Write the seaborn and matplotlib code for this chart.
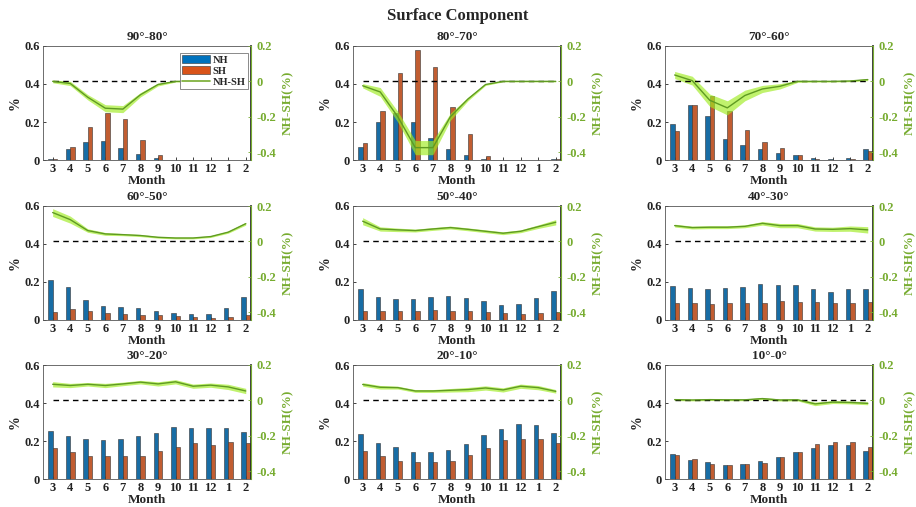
import numpy as np
import pandas as pd
import matplotlib
matplotlib.use("Agg")
import matplotlib.pyplot as plt
from matplotlib.ticker import FuncFormatter
from matplotlib.patches import Patch
from matplotlib.lines import Line2D
import seaborn as sns

months = ["3", "4", "5", "6", "7", "8", "9", "10", "11", "12", "1", "2"]
titles = ["90°-80°", "80°-70°", "70°-60°", "60°-50°", "50°-40°",
          "40°-30°", "30°-20°", "20°-10°", "10°-0°"]

nh_90_80 = [0.005, 0.06, 0.095, 0.10, 0.062, 0.03, 0.01, 0.001, 0, 0, 0, 0]
sh_90_80 = [0.007, 0.07, 0.175, 0.25, 0.215, 0.105, 0.025, 0.002, 0, 0, 0, 0]
d_90_80 = [0.0, -0.012, -0.09, -0.152, -0.157, -0.076, -0.018, 0.0, 0.0, 0.0, 0.0, 0.0]
e_90_80 = [0.008, 0.012, 0.015, 0.02, 0.02, 0.012, 0.008, 0.004, 0.003, 0.003, 0.003, 0.003]

nh_80_70 = [0.07, 0.20, 0.25, 0.20, 0.117, 0.056, 0.025, 0.007, 0, 0, 0.001, 0.004]
sh_80_70 = [0.089, 0.26, 0.46, 0.577, 0.49, 0.28, 0.135, 0.02, 0, 0, 0, 0.006]
d_80_70 = [-0.025, -0.06, -0.2, -0.375, -0.375, -0.2, -0.1, -0.018, 0.0, 0.0, 0.0, 0.0]
e_80_70 = [0.012, 0.025, 0.03, 0.04, 0.04, 0.02, 0.01, 0.005, 0.003, 0.003, 0.003, 0.003]

nh_70_60 = [0.19, 0.29, 0.23, 0.11, 0.08, 0.057, 0.038, 0.026, 0.01, 0.004, 0.01, 0.058]
sh_70_60 = [0.155, 0.29, 0.335, 0.26, 0.16, 0.095, 0.062, 0.026, 0.004, 0.002, 0.007, 0.045]
d_70_60 = [0.036, 0.004, -0.107, -0.15, -0.08, -0.043, -0.028, 0.0, 0.0, 0.0, 0.002, 0.01]
e_70_60 = [0.02, 0.025, 0.035, 0.04, 0.03, 0.02, 0.015, 0.006, 0.004, 0.004, 0.004, 0.006]

nh_60_50 = [0.208, 0.176, 0.106, 0.076, 0.07, 0.062, 0.05, 0.039, 0.032, 0.032, 0.062, 0.123]
sh_60_50 = [0.044, 0.056, 0.046, 0.037, 0.032, 0.028, 0.025, 0.019, 0.014, 0.011, 0.014, 0.025]
d_60_50 = [0.163, 0.123, 0.061, 0.042, 0.038, 0.033, 0.023, 0.019, 0.019, 0.027, 0.052, 0.1]
e_60_50 = [0.022, 0.02, 0.01, 0.008, 0.006, 0.006, 0.005, 0.005, 0.005, 0.005, 0.006, 0.008]

nh_50_40 = [0.164, 0.12, 0.111, 0.111, 0.123, 0.127, 0.118, 0.099, 0.078, 0.086, 0.118, 0.153]
sh_50_40 = [0.048, 0.049, 0.048, 0.049, 0.053, 0.046, 0.048, 0.04, 0.035, 0.032, 0.037, 0.044]
d_50_40 = [0.114, 0.07, 0.065, 0.061, 0.07, 0.078, 0.068, 0.057, 0.046, 0.057, 0.083, 0.108]
e_50_40 = [0.02, 0.012, 0.01, 0.008, 0.008, 0.008, 0.008, 0.008, 0.008, 0.008, 0.01, 0.015]

nh_40_30 = [0.178, 0.169, 0.164, 0.169, 0.176, 0.19, 0.185, 0.183, 0.162, 0.15, 0.164, 0.164]
sh_40_30 = [0.092, 0.09, 0.083, 0.09, 0.092, 0.087, 0.099, 0.097, 0.094, 0.087, 0.092, 0.097]
d_40_30 = [0.089, 0.078, 0.08, 0.08, 0.085, 0.102, 0.089, 0.089, 0.07, 0.068, 0.072, 0.065]
e_40_30 = [0.008, 0.008, 0.008, 0.008, 0.008, 0.01, 0.012, 0.012, 0.012, 0.012, 0.015, 0.018]

nh_30_20 = [0.254, 0.224, 0.212, 0.203, 0.213, 0.227, 0.241, 0.273, 0.267, 0.266, 0.267, 0.245]
sh_30_20 = [0.163, 0.142, 0.122, 0.121, 0.122, 0.122, 0.15, 0.168, 0.189, 0.18, 0.194, 0.192]
d_30_20 = [0.091, 0.084, 0.091, 0.084, 0.093, 0.103, 0.093, 0.105, 0.08, 0.086, 0.076, 0.053]
e_30_20 = [0.015, 0.012, 0.01, 0.012, 0.01, 0.01, 0.012, 0.012, 0.012, 0.012, 0.015, 0.015]

nh_20_10 = [0.236, 0.192, 0.166, 0.143, 0.143, 0.152, 0.184, 0.231, 0.262, 0.287, 0.285, 0.243]
sh_20_10 = [0.15, 0.122, 0.094, 0.089, 0.091, 0.096, 0.128, 0.163, 0.205, 0.208, 0.213, 0.191]
d_20_10 = [0.09, 0.074, 0.072, 0.053, 0.053, 0.057, 0.061, 0.07, 0.059, 0.08, 0.072, 0.051]
e_20_10 = [0.01, 0.01, 0.008, 0.008, 0.008, 0.01, 0.012, 0.012, 0.012, 0.012, 0.012, 0.01]

nh_10_0 = [0.133, 0.1, 0.087, 0.075, 0.079, 0.094, 0.114, 0.143, 0.163, 0.18, 0.18, 0.15]
sh_10_0 = [0.128, 0.103, 0.08, 0.073, 0.077, 0.084, 0.114, 0.142, 0.185, 0.194, 0.194, 0.166]
d_10_0 = [0.004, 0.002, 0.004, 0.003, 0.003, 0.01, 0.002, 0.003, -0.02, -0.01, -0.012, -0.017]
e_10_0 = [0.005, 0.005, 0.005, 0.005, 0.005, 0.006, 0.006, 0.006, 0.01, 0.008, 0.008, 0.008]

panels = [
    (nh_90_80, sh_90_80, d_90_80, e_90_80),
    (nh_80_70, sh_80_70, d_80_70, e_80_70),
    (nh_70_60, sh_70_60, d_70_60, e_70_60),
    (nh_60_50, sh_60_50, d_60_50, e_60_50),
    (nh_50_40, sh_50_40, d_50_40, e_50_40),
    (nh_40_30, sh_40_30, d_40_30, e_40_30),
    (nh_30_20, sh_30_20, d_30_20, e_30_20),
    (nh_20_10, sh_20_10, d_20_10, e_20_10),
    (nh_10_0, sh_10_0, d_10_0, e_10_0),
]

sns.set_theme(style="ticks")
plt.rcParams["font.family"] = ["Liberation Serif", "DejaVu Serif"]
plt.rcParams["font.weight"] = "bold"
plt.rcParams["axes.labelweight"] = "bold"
plt.rcParams["axes.titleweight"] = "bold"
plt.rcParams["xtick.direction"] = "in"
plt.rcParams["ytick.direction"] = "in"

NH_C = "#0072BD"
SH_C = "#D95319"
GREEN = "#77AC30"
LINE_C = "#5f9a22"
FILL_C = (0.62, 0.92, 0.12)

W, H = 916, 507
fig = plt.figure(figsize=(W / 100, H / 100), dpi=100)

col_left = [43, 353, 665]
row_top = [46, 206, 365]
aw, ah = 208, 114

def fmt(v, _):
    if abs(v) < 1e-9:
        return "0"
    return f"{v:.1f}"

for i, (nh, sh, d, e) in enumerate(panels):
    r, c = divmod(i, 3)
    ax = fig.add_axes([col_left[c] / W, 1 - (row_top[r] + ah) / H, aw / W, ah / H])
    df = pd.DataFrame({
        "Month": months * 2,
        "value": list(nh) + list(sh),
        "hemi": ["NH"] * 12 + ["SH"] * 12,
    })
    sns.barplot(data=df, x="Month", y="value", hue="hemi", order=months,
                hue_order=["NH", "SH"], palette=[NH_C, SH_C], width=0.5,
                edgecolor="#333333", linewidth=0.4, legend=False, ax=ax)
    ax.set_xlim(-0.55, 11.3)
    ax.set_ylim(0, 0.6)
    ax.set_yticks([0, 0.2, 0.4, 0.6])
    ax.yaxis.set_major_formatter(FuncFormatter(fmt))
    ax.set_xlabel("Month", fontsize=9.5, labelpad=0)
    ax.set_ylabel("%", fontsize=10, labelpad=2)
    ax.set_title(titles[i], fontsize=9.5, pad=4)
    ax.tick_params(axis="both", labelsize=9, length=2.5, width=0.6, pad=2,
                   colors="#222222")
    for sp in ["left", "bottom", "top"]:
        ax.spines[sp].set_color("#555555")
        ax.spines[sp].set_linewidth(0.6)
    for lab in ax.get_xticklabels() + ax.get_yticklabels():
        lab.set_fontweight("bold")

    ax2 = ax.twinx()
    pos = np.arange(len(months))
    dd = np.array(d)
    ee = np.array(e)
    ax2.hlines(0, pos[0], pos[-1], colors="black", linestyles=(0, (4, 3)),
               linewidth=1.0)
    ax2.fill_between(pos, dd - ee, dd + ee, color=FILL_C, alpha=0.65, linewidth=0)
    sns.lineplot(x=pos, y=dd, ax=ax2, color=LINE_C, linewidth=1.0)
    ax2.set_xlim(-0.55, 11.3)
    ax2.set_ylim(-0.445, 0.2)
    ax2.set_yticks([-0.4, -0.2, 0, 0.2])
    ax2.yaxis.set_major_formatter(FuncFormatter(fmt))
    ax2.set_ylabel("NH-SH(%)", color=GREEN, fontsize=9.5, labelpad=4)
    ax2.tick_params(axis="y", labelsize=9, colors=GREEN, length=2.5, width=0.6, pad=4)
    for lab in ax2.get_yticklabels():
        lab.set_fontweight("bold")
    ax2.spines["right"].set_color(GREEN)
    ax2.spines["right"].set_linewidth(0.8)
    for sp in ["left", "bottom", "top"]:
        ax2.spines[sp].set_visible(False)

    if i == 0:
        handles = [Patch(facecolor=NH_C, edgecolor="#333333", linewidth=0.4),
                   Patch(facecolor=SH_C, edgecolor="#333333", linewidth=0.4),
                   Line2D([], [], color=GREEN, linewidth=1.2)]
        leg = ax2.legend(handles, ["NH", "SH", "NH-SH"], loc="upper right",
                         bbox_to_anchor=(0.995, 0.96), fontsize=7.5,
                         frameon=True, fancybox=False, framealpha=1,
                         edgecolor="#777777", borderpad=0.2, labelspacing=0.1,
                         handlelength=2.7, handleheight=0.9, handletextpad=0.3,
                         borderaxespad=0.2)
        leg.get_frame().set_linewidth(0.6)
        for t in leg.get_texts():
            t.set_fontweight("bold")

fig.text(0.5, 1 - 16 / H, "Surface Component", ha="center", va="center",
         fontsize=12, fontweight="bold")

fig.savefig("out.png", dpi=100)
